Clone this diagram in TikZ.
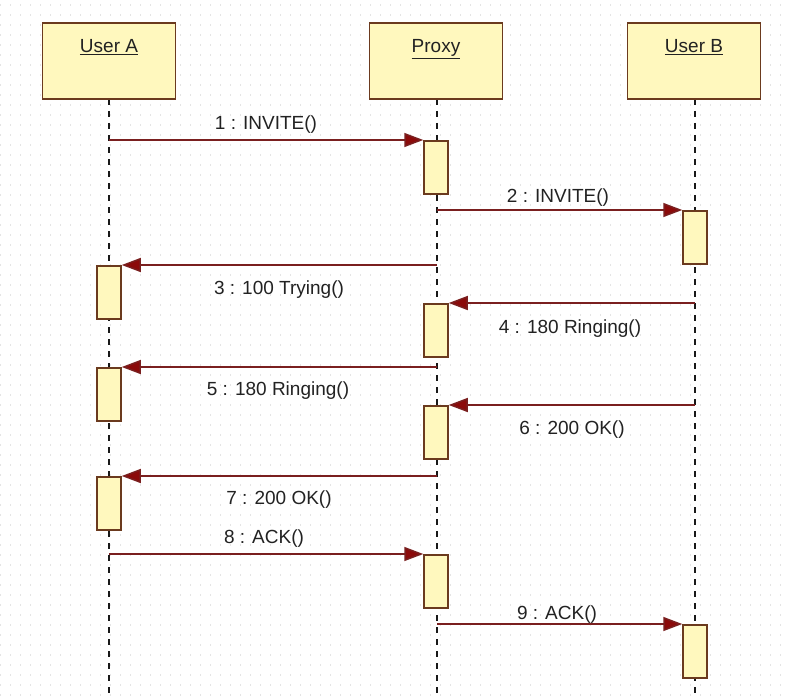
\documentclass[tikz,border=0pt]{standalone}
\usepackage{fontspec}
\setmainfont{Liberation Sans}
\usetikzlibrary{arrows.meta}
\definecolor{boxfill}{HTML}{FFF8BE}
\definecolor{boxline}{HTML}{6B3A1E}
\definecolor{msgline}{HTML}{7A1F1F}
\definecolor{arrowfill}{HTML}{8B0A0A}
\definecolor{griddot}{HTML}{E4E4E4}
\definecolor{txt}{HTML}{222222}
\begin{document}
\begin{tikzpicture}[x=1pt,y=-1pt,
  objbox/.style={draw=boxline, fill=boxfill, line width=1.5pt, minimum width=133pt, minimum height=76pt, inner sep=0pt},
  actbox/.style={draw=boxline, fill=boxfill, line width=1.5pt, minimum width=24pt, minimum height=53pt, inner sep=0pt, anchor=north},
  lifeline/.style={draw=black!90, line width=1.8pt, dash pattern=on 6pt off 6pt},
  msg/.style={draw=msgline, line width=1.5pt, -{Triangle[length=19pt,width=14pt,fill=arrowfill]}},
  lbl/.style={text=txt, font=\fontsize{19}{22}\selectfont, anchor=base, inner sep=0pt},
  gridline/.style={draw=griddot, line width=1.3pt, dash pattern=on 1.3pt off 8.7pt}
]
\useasboundingbox[fill=white] (0,0) rectangle (789,698);
\foreach \y in {5,15,...,695} \draw[gridline] (0,\y) -- (789,\y);

% lifelines
\coordinate (LAt) at (109,99);  \coordinate (LAb) at (109,698);
\coordinate (LPt) at (437,99);  \coordinate (LPb) at (437,698);
\coordinate (LBt) at (695,99);  \coordinate (LBb) at (695,698);
\draw[lifeline] (LAt) -- (LAb);
\draw[lifeline] (LPt) -- (LPb);
\draw[lifeline] (LBt) -- (LBb);

% object boxes
\node[objbox] (A) at (109,61) {};
\node[objbox] (P) at (436,61) {};
\node[objbox] (B) at (694,61) {};
\node[lbl] (tA) at (109,53) {\underline{User A}};
\node[lbl] (tP) at (436,53) {\underline{Proxy}};
\node[lbl] (tB) at (694,53) {\underline{User B}};

% activations
\node[actbox] (p1) at (436,140) {};
\node[actbox] (b1) at (695,210) {};
\node[actbox] (a1) at (109,265) {};
\node[actbox] (p2) at (436,303) {};
\node[actbox] (a2) at (109,367) {};
\node[actbox] (p3) at (436,405) {};
\node[actbox] (a3) at (109,476) {};
\node[actbox] (p4) at (436,554) {};
\node[actbox] (b2) at (695,624) {};

% message start points
\coordinate (s1) at (109,140);
\coordinate (s2) at (437,210);
\coordinate (s3) at (437,265);
\coordinate (s4) at (695,303);
\coordinate (s5) at (437,367);
\coordinate (s6) at (695,405);
\coordinate (s7) at (437,476);
\coordinate (s8) at (109,554);
\coordinate (s9) at (437,624);

\draw[msg] (s1) -- (p1.north west);
\draw[msg] (s2) -- (b1.north west);
\draw[msg] (s3) -- (a1.north east);
\draw[msg] (s4) -- (p2.north east);
\draw[msg] (s5) -- (a2.north east);
\draw[msg] (s6) -- (p3.north east);
\draw[msg] (s7) -- (a3.north east);
\draw[msg] (s8) -- (p4.north west);
\draw[msg] (s9) -- (b2.north west);

% labels
\node[lbl] (l1) at (266,129) {1 : INVITE()};
\node[lbl] (l2) at (558,202) {2 : INVITE()};
\node[lbl] (l3) at (279,294) {3 : 100 Trying()};
\node[lbl] (l4) at (570,333) {4 : 180 Ringing()};
\node[lbl] (l5) at (278,395) {5 : 180 Ringing()};
\node[lbl] (l6) at (572,434) {6 : 200 OK()};
\node[lbl] (l7) at (279,504) {7 : 200 OK()};
\node[lbl] (l8) at (264,543) {8 : ACK()};
\node[lbl] (l9) at (557,619) {9 : ACK()};
\end{tikzpicture}
\end{document}
